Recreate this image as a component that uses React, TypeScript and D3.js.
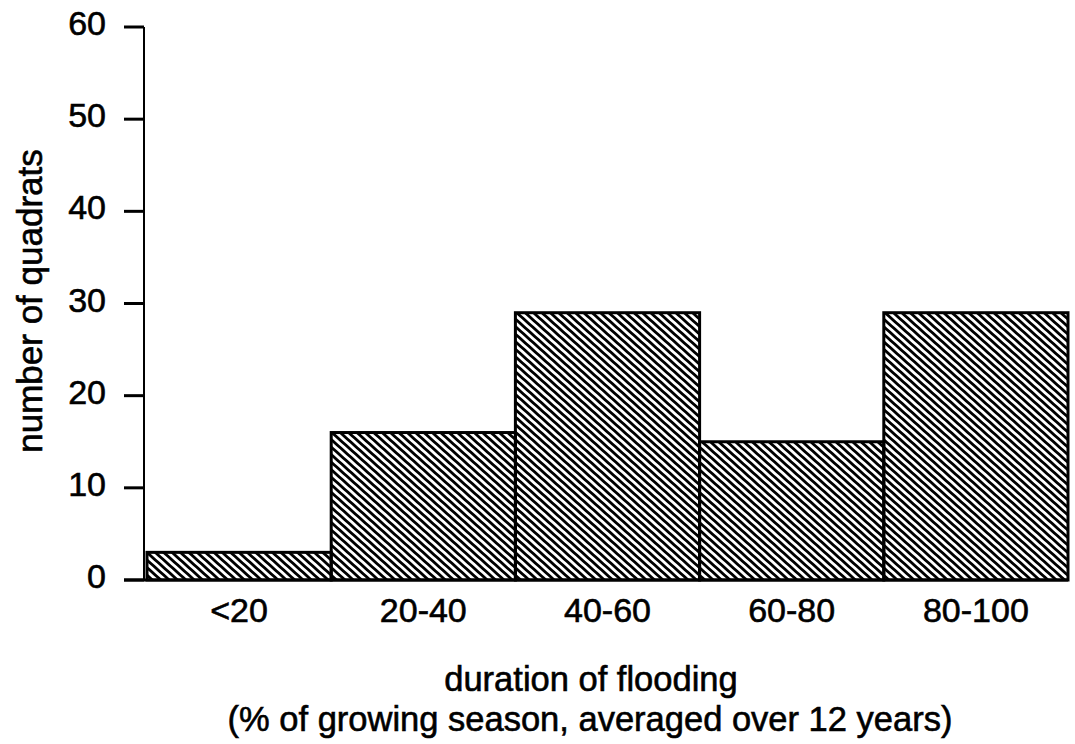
import React from "react";
import * as d3 from "d3";

const categories = ["<20", "20-40", "40-60", "60-80", "80-100"];
const counts = [3, 16, 29, 15, 29];
const yTicks = [0, 10, 20, 30, 40, 50, 60];
const yLabel = "number of quadrats";
const xLabel1 = "duration of flooding";
const xLabel2 = "(% of growing season, averaged over 12 years)";

const W = 1075;
const H = 744;
const FONT = "'Liberation Sans', Arial, Helvetica, sans-serif";
const TICK_FS = 34;
const TITLE_FS = 34.5;

export default function App() {
  const x = d3.scaleBand<string>().domain(categories).range([147, 1068]).padding(0);
  const y = d3.scaleLinear().domain([0, 60]).range([580, 27]);
  const axisX = 144;

  const textStyle = {
    fontFamily: FONT,
    fill: "#000",
    stroke: "#000",
    strokeWidth: 0.6,
  } as const;

  return (
    <svg
      width={W}
      height={H}
      style={{ position: "absolute", left: 0, top: 0, background: "#fff" }}
    >
      <defs>
        <pattern
          id="hatch"
          patternUnits="userSpaceOnUse"
          width={5.6}
          height={20}
          patternTransform="rotate(-48)"
        >
          <rect x={0} y={0} width={2.8} height={20} fill="#000" />
        </pattern>
      </defs>
      <rect x={0} y={0} width={W} height={H} fill="#fff" />

      {categories.map((c, i) => (
        <rect
          key={c}
          x={x(c)!}
          y={y(counts[i])}
          width={x.bandwidth()}
          height={y(0) - y(counts[i])}
          fill="url(#hatch)"
          stroke="#000"
          strokeWidth={3}
        />
      ))}

      {/* y axis */}
      <line x1={axisX} x2={axisX} y1={y(60)} y2={y(0)} stroke="#000" strokeWidth={2} />
      {yTicks.map((t) => (
        <g key={t}>
          <line x1={axisX - 20} x2={axisX} y1={y(t)} y2={y(t)} stroke="#000" strokeWidth={3} />
          <text
            x={106}
            y={y(t) + 8}
            textAnchor="end"
            fontSize={TICK_FS}
            {...textStyle}
          >
            {t}
          </text>
        </g>
      ))}
      {/* x axis */}
      <line x1={axisX - 20} x2={1068} y1={y(0)} y2={y(0)} stroke="#000" strokeWidth={3} />

      {categories.map((c) => (
        <text
          key={c}
          x={x(c)! + x.bandwidth() / 2}
          y={622}
          textAnchor="middle"
          fontSize={TICK_FS}
          {...textStyle}
        >
          {c}
        </text>
      ))}

      <text x={591} y={691} textAnchor="middle" fontSize={TITLE_FS} {...textStyle}>
        {xLabel1}
      </text>
      <text x={590} y={731} textAnchor="middle" fontSize={TITLE_FS} {...textStyle}>
        {xLabel2}
      </text>

      <text
        transform={`translate(42, 301) rotate(-90)`}
        textAnchor="middle"
        fontSize={35}
        {...textStyle}
      >
        {yLabel}
      </text>
    </svg>
  );
}
